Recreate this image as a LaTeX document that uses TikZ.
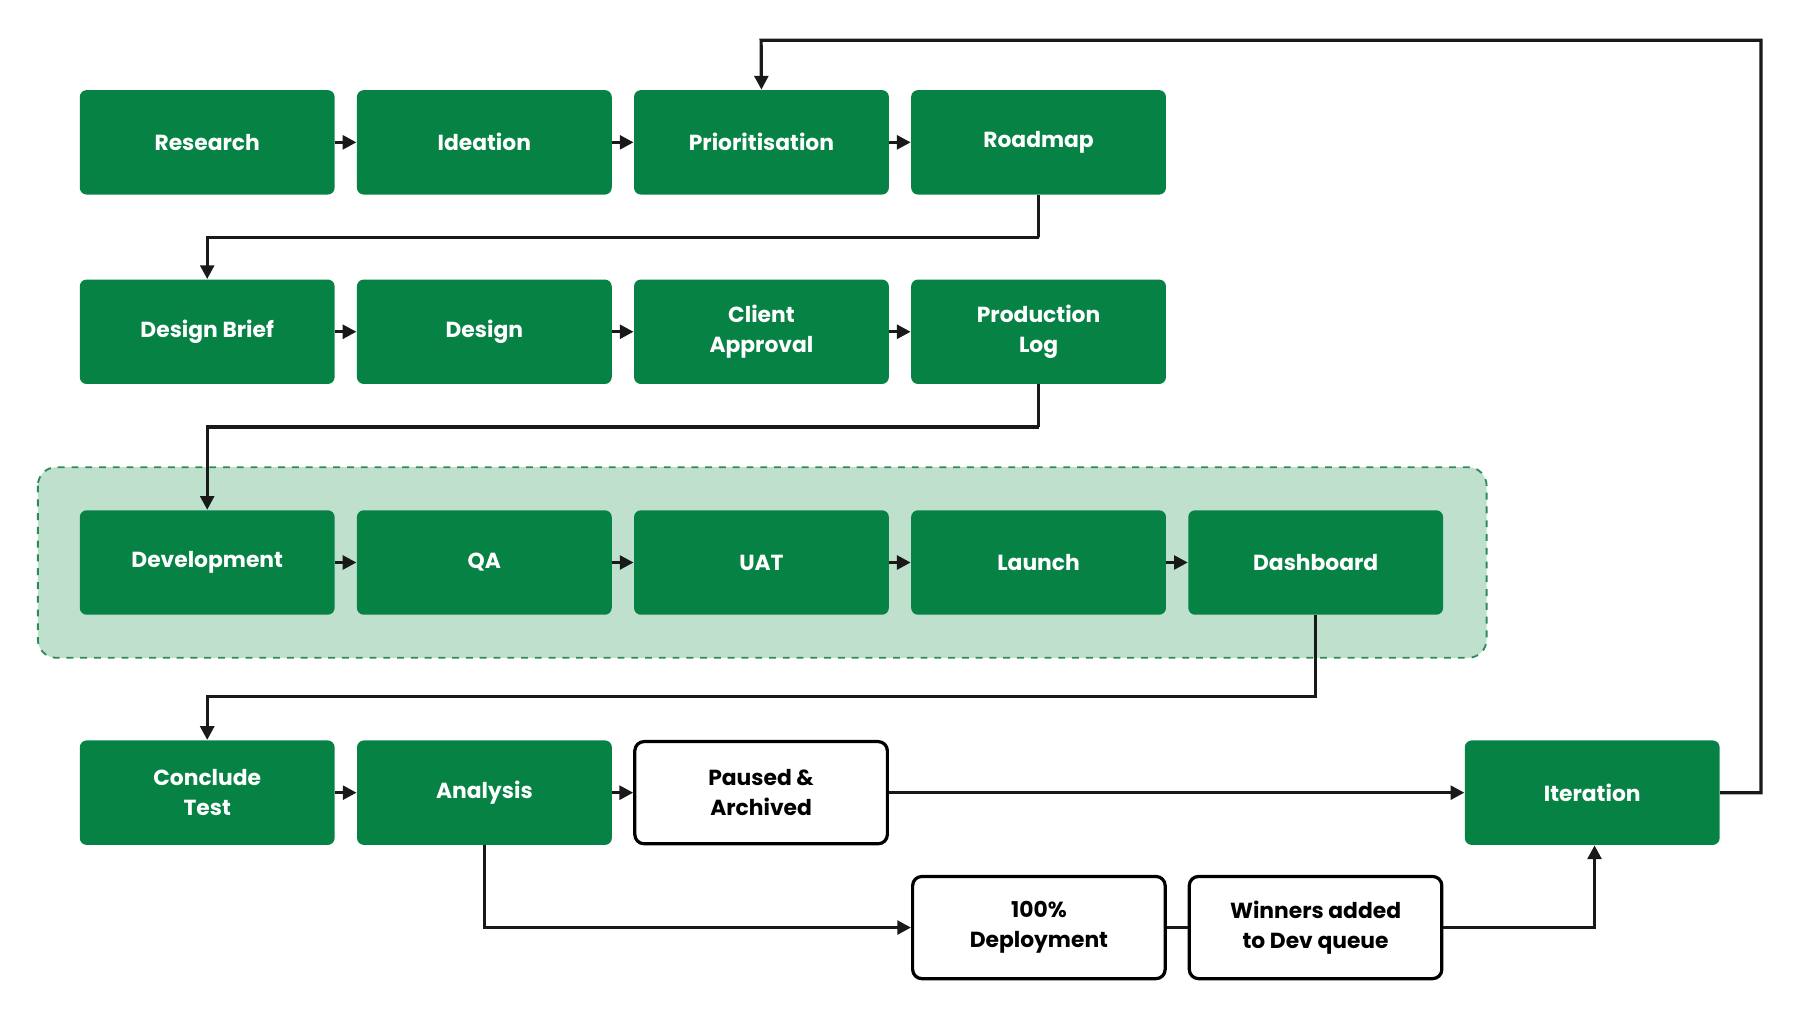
\documentclass[tikz,border=0pt]{standalone}
\usepackage{fontspec}
\setmainfont{Poppins}
\usetikzlibrary{arrows.meta}
\definecolor{gr}{HTML}{058244}
\definecolor{bgg}{HTML}{C0E0CE}
\definecolor{bgb}{HTML}{2E8B57}
\begin{document}
\begin{tikzpicture}[x=0.5pt,y=-0.5pt,
  gbox/.style={fill=gr,rounded corners=3pt,minimum width=111pt,minimum height=45.5pt,text=white,font=\bfseries\fontsize{9.5}{13}\selectfont,align=center,inner sep=0pt},
  wbox/.style={draw=black,fill=white,line width=1.4pt,rounded corners=4pt,minimum width=110pt,minimum height=44.5pt,font=\bfseries\fontsize{9.5}{13}\selectfont,align=center,inner sep=0pt},
  conn/.style={line width=1.4pt,draw=black!90},
  arr/.style={conn,-{Triangle[length=6pt,width=6pt]}}]
\useasboundingbox (0,0) rectangle (1568,888);
\fill[bgg,draw=bgb,dashed,line width=0.8pt,rounded corners=8pt] (33,407) rectangle (1295,573);
\foreach \n/\t [count=\i] in {r1/Research,r2/Ideation,r3/Prioritisation,r4/Roadmap}
  \node[gbox] (\n) at ({180.5+241.4*(\i-1)},124) {\t};
\foreach \n/\t [count=\i] in {b1/Design Brief,b2/Design,b3/Client\\Approval,b4/Production\\Log}
  \node[gbox] (\n) at ({180.5+241.4*(\i-1)},289) {\t};
\foreach \n/\t [count=\i] in {d1/Development,d2/QA,d3/UAT,d4/Launch,d5/Dashboard}
  \node[gbox] (\n) at ({180.5+241.4*(\i-1)},490) {\t};
\node[gbox] (c1) at (180.5,690.5) {Conclude\\Test};
\node[gbox] (c2) at (422,690.5) {Analysis};
\node[wbox] (pa) at (663,690.5) {Paused \&\\Archived};
\node[gbox] (it) at (1387,690.5) {Iteration};
\node[wbox] (dep) at (905,808) {100\%\\Deployment};
\node[wbox] (win) at (1146,808) {Winners added\\to Dev queue};
\foreach \a/\b in {r1/r2,r2/r3,r3/r4,b1/b2,b2/b3,b3/b4,d1/d2,d2/d3,d3/d4,d4/d5,c1/c2,c2/pa,pa/it}
  \draw[arr] (\a) -- (\b);
\draw[arr] (r4.south) |- (905,207) -| (b1.north);
\draw[arr] (b4.south) |- (905,372) -| (d1.north);
\draw[arr] (d5.south) |- (1146,607) -| (c1.north);
\draw[arr] (c2.south) |- (dep.west);
\draw[conn] (dep) -- (win);
\draw[arr] (win.east) -| ([xshift=1pt]it.south);
\draw[arr] (it.east) -- (1534,690.5) |- (663,35) -- (r3.north);
\end{tikzpicture}
\end{document}
